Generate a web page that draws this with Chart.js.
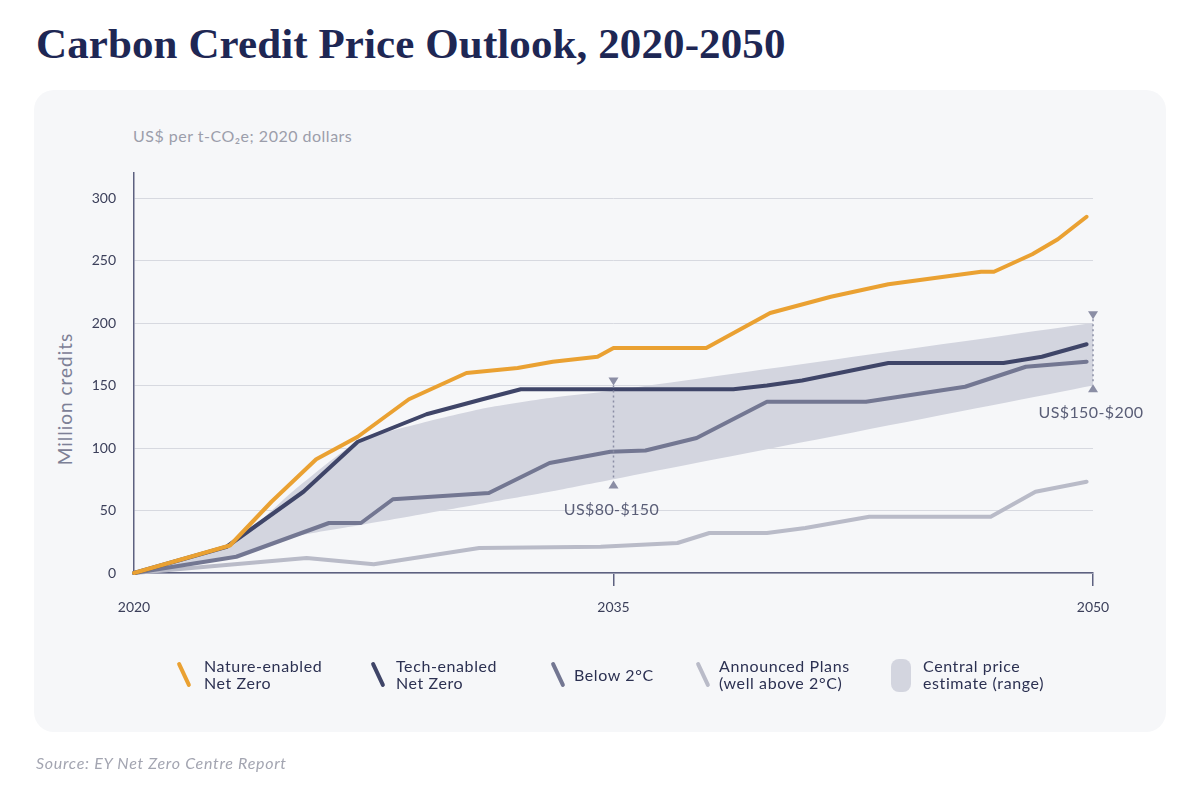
<!DOCTYPE html>
<html>
<head>
<meta charset="utf-8">
<script src="https://cdn.jsdelivr.net/npm/chart.js@4.4.0/dist/chart.umd.min.js"></script>
<style>
  body { margin:0; width:1200px; height:800px; background:#fff; position:relative; overflow:hidden; font-family: Lato, sans-serif; }
  h1 { position:absolute; left:36px; top:19px; margin:0; font: bold 43px "Liberation Serif", serif; color:#1e2754; letter-spacing:0.1px; }
  .panel { position:absolute; left:34px; top:90px; width:1132px; height:642px; background:#f6f7f9; border-radius:20px; }
  .sub { position:absolute; left:133px; top:126px; font-size:16px; letter-spacing:0.5px; color:#9c9eab; }
  .ytitle { position:absolute; left:64px; top:399px; transform:translate(-50%,-50%) rotate(-90deg); font-size:19px; letter-spacing:1px; color:#7d8096; white-space:nowrap; }
  canvas { position:absolute; left:0; top:0; }
  .item { position:absolute; top:657px; font-size:16px; letter-spacing:0.6px; line-height:17px; color:#2c3152; white-space:nowrap; }
  .icon { position:absolute; top:661px; width:4px; height:27px; border-radius:2px; transform:rotate(-25deg); }
  .box { position:absolute; left:891px; top:659px; width:20px; height:33px; border-radius:8px; background:#d3d5df; }
  .source { position:absolute; left:36px; top:753px; font-size:16px; letter-spacing:0.7px; font-style:italic; color:#a3a5b1; }
</style>
</head>
<body>
<h1>Carbon Credit Price Outlook, 2020-2050</h1>
<div class="panel"></div>
<div class="sub">US$ per t-CO₂e; 2020 dollars</div>
<div class="ytitle">Million credits</div>
<canvas id="grafico" width="1200" height="800"></canvas>

<div class="icon" style="left:182px;background:#eaa132"></div>
<div class="item" style="left:204px">Nature-enabled<br>Net Zero</div>
<div class="icon" style="left:376px;background:#3f4568"></div>
<div class="item" style="left:396px">Tech-enabled<br>Net Zero</div>
<div class="icon" style="left:556px;background:#737792"></div>
<div class="item" style="left:574px;top:666px">Below 2°C</div>
<div class="icon" style="left:701px;background:#b9bbc8"></div>
<div class="item" style="left:719px">Announced Plans<br>(well above 2°C)</div>
<div class="box"></div>
<div class="item" style="left:923px">Central price<br>estimate (range)</div>

<div class="source">Source: EY Net Zero Centre Report</div>

<script>
const natureYears = [2020, 2023, 2024.3, 2025.7, 2027, 2028.6, 2030.4, 2032, 2033.1, 2034.5, 2035, 2037.9, 2039.9, 2041.8, 2043.6, 2046.5, 2046.9, 2048.1, 2048.9, 2049.8];
const natureValues = [0, 22, 57, 91, 109, 139, 160, 164, 169, 173, 180, 180, 208, 221, 231, 241, 241, 255, 267, 285];

const techYears = [2020, 2022.9, 2025.3, 2027, 2029.15, 2030.9, 2032.1, 2038.75, 2039.8, 2040.9, 2043.6, 2047.2, 2048.4, 2049.8];
const techValues = [0, 21, 65, 105, 127, 139, 147, 147, 150, 154, 168, 168, 173, 183];

const below2Years = [2020, 2023.2, 2026.1, 2027.1, 2028.1, 2031.1, 2033, 2034.9, 2036, 2037.6, 2039.8, 2042.9, 2046, 2047.9, 2049.8];
const below2Values = [0, 13, 40, 40, 59, 64, 88, 97, 98, 108, 137, 137, 149, 165, 169];

const announcedYears = [2020, 2025.4, 2027.5, 2030.8, 2034.6, 2037, 2038, 2039.8, 2041, 2043, 2046.8, 2048.2, 2049.8];
const announcedValues = [0, 12, 7, 20, 21, 24, 32, 32, 36, 45, 45, 65, 73];

// faixa do preco central
const bandYears = [2020, 2023, 2025, 2027, 2029, 2031, 2033, 2035, 2050];
const bandHigh = [0, 22, 66, 105, 120, 132, 140, 146, 200];
const bandLow = [0, 12, 29, 38, 47, 56, 65, 75, 150];

const rangeYears = [2035, 2050];
const rangeLow = [74, 151];
const rangeHigh = [150, 203];
const rangeLabels = ['US$80-$150', 'US$150-$200'];

const xTickYears = [2020, 2035, 2050];

const pts = (xs, ys) => xs.map((x, i) => ({ x: x, y: ys[i] }));

const linha = (label, xs, ys, cor) => ({
  label: label,
  data: pts(xs, ys),
  borderColor: cor,
  borderWidth: 4,
  pointRadius: 0,
  fill: false,
  tension: 0,
  borderJoinStyle: 'round',
  borderCapStyle: 'round',
  clip: false
});

const rangeMarks = {
  id: 'rangeMarks',
  afterDatasetsDraw(chart) {
    const { ctx, scales: { x, y } } = chart;
    rangeYears.forEach((ano, i) => {
      const px = x.getPixelForValue(ano);
      const top = y.getPixelForValue(rangeHigh[i]);
      const bot = y.getPixelForValue(rangeLow[i]);
      ctx.save();
      ctx.strokeStyle = '#8b8ea5';
      ctx.lineWidth = 1.5;
      ctx.setLineDash([2, 3]);
      ctx.beginPath();
      ctx.moveTo(px, top);
      ctx.lineTo(px, bot);
      ctx.stroke();
      ctx.setLineDash([]);
      ctx.fillStyle = '#8b8ea5';
      ctx.beginPath();
      ctx.moveTo(px - 5, top - 8); ctx.lineTo(px + 5, top - 8); ctx.lineTo(px, top);
      ctx.fill();
      ctx.beginPath();
      ctx.moveTo(px - 5, bot + 8); ctx.lineTo(px + 5, bot + 8); ctx.lineTo(px, bot);
      ctx.fill();
      ctx.font = '16px Lato';
      ctx.letterSpacing = '0.4px';
      ctx.fillStyle = '#5a5e77';
      ctx.textAlign = 'center';
      ctx.textBaseline = 'middle';
      ctx.fillText(rangeLabels[i], px - 2, bot + 29);
      ctx.restore();
    });
  }
};

Chart.defaults.font.family = 'Lato';

const ctx = document.getElementById('grafico').getContext('2d');
new Chart(ctx, {
  type: 'line',
  data: {
    datasets: [
      linha('Nature-enabled Net Zero', natureYears, natureValues, '#eaa132'),
      linha('Tech-enabled Net Zero', techYears, techValues, '#3f4568'),
      linha('Below 2°C', below2Years, below2Values, '#737792'),
      linha('Announced Plans (well above 2°C)', announcedYears, announcedValues, '#b9bbc8'),
      {
        label: 'Central price estimate (range)',
        data: pts(bandYears, bandHigh),
        borderWidth: 0,
        pointRadius: 0,
        backgroundColor: '#d3d5df',
        fill: '+1',
        tension: 0.2
      },
      {
        label: 'low',
        data: pts(bandYears, bandLow),
        borderWidth: 0,
        pointRadius: 0,
        fill: false,
        tension: 0.2
      }
    ]
  },
  options: {
    responsive: false,
    animation: false,
    devicePixelRatio: 1,
    layout: { padding: { left: 0, right: 107, top: 173, bottom: 177 } },
    plugins: {
      legend: { display: false },
      tooltip: { enabled: false }
    },
    scales: {
      x: {
        type: 'linear',
        min: 2020,
        max: 2050,
        afterBuildTicks: s => { s.ticks = xTickYears.map(v => ({ value: v })); },
        afterFit: s => { s.height = 50; },
        border: { display: true, color: '#5d6180', width: 1.5 },
        grid: {
          drawOnChartArea: false,
          tickLength: 13,
          lineWidth: 1.5,
          color: c => (c.tick && c.tick.value === 2020) ? 'rgba(0,0,0,0)' : '#5d6180'
        },
        ticks: { padding: 13, color: '#3b3f5a', font: { size: 14 }, callback: v => String(v) }
      },
      y: {
        min: 0,
        max: 320,
        afterFit: s => { s.width = 134; },
        border: { display: true, color: '#5d6180', width: 1.5 },
        grid: { color: '#d7d9e0', drawTicks: false },
        ticks: { stepSize: 50, includeBounds: false, padding: 18, color: '#3b3f5a', font: { size: 14 } }
      }
    }
  },
  plugins: [rangeMarks]
});
</script>
</body>
</html>
